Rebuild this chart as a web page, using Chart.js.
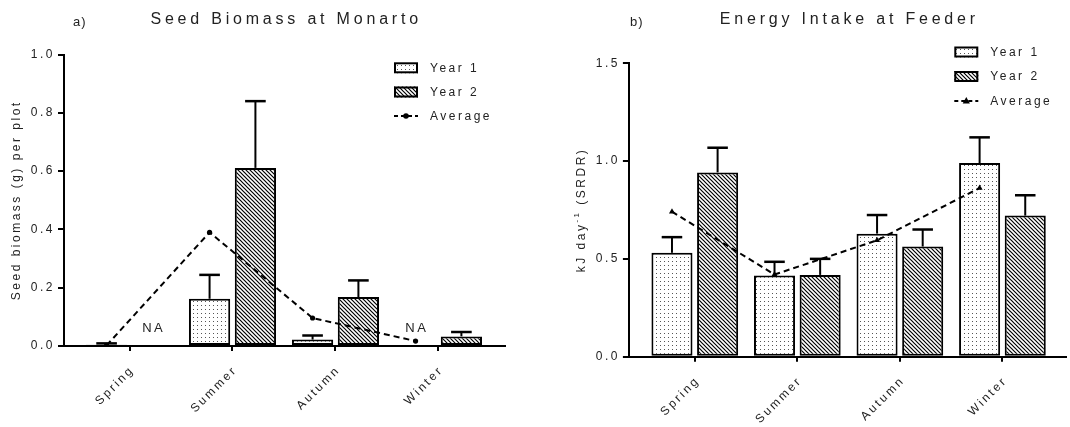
<!DOCTYPE html>
<html><head><meta charset="utf-8">
<script src="https://cdn.jsdelivr.net/npm/chart.js@4"></script>
<style>
html,body{margin:0;padding:0;background:#fff;}
#wrap{position:relative;width:1070px;height:427px;overflow:hidden;}
canvas{position:absolute;top:0;}
#c1{left:0}#c2{left:535px}
</style></head><body>
<div id="wrap"><canvas id="c1" width="535" height="427"></canvas><canvas id="c2" width="535" height="427"></canvas></div>
<script>
// ---- data ----
const seasons = ['Spring', 'Summer', 'Autumn', 'Winter'];
// a) Seed biomass at Monarto, g per plot (null = NA)
const seedYear1    = [0.004, 0.162, 0.022, null];
const seedYear1Err = [0.005, 0.082, 0.014, null];
const seedYear2    = [null, 0.611, 0.168, 0.033];
const seedYear2Err = [null, 0.229, 0.057, 0.015];
const seedAverage  = [0.002, 0.390, 0.096, 0.017];
const seedTicks    = [0, 0.2, 0.4, 0.6, 0.8, 1.0];
// b) Energy intake at feeder, kJ day-1 (SRDR)
const energyYear1    = [0.531, 0.415, 0.629, 0.990];
const energyYear1Err = [0.080, 0.070, 0.095, 0.131];
const energyYear2    = [0.942, 0.418, 0.563, 0.721];
const energyYear2Err = [0.126, 0.082, 0.087, 0.104];
const energyAverage  = [0.741, 0.420, 0.595, 0.862];
const energyTicks    = [0, 0.5, 1.0, 1.5];

const CAT = 0.89, BAR = 0.9;
const FAM = "'Liberation Sans', Arial, sans-serif";
const TXT = '#222';

function dotPattern(ctx){
  const c=document.createElement('canvas');c.width=4;c.height=4;
  const g=c.getContext('2d');g.fillStyle='#fff';g.fillRect(0,0,4,4);
  g.fillStyle='#555';g.fillRect(1,1,1,1);
  return ctx.createPattern(c,'repeat');
}
function hatchPattern(ctx){
  const c=document.createElement('canvas');c.width=4;c.height=4;
  const g=c.getContext('2d');g.fillStyle='#fff';g.fillRect(0,0,4,4);
  g.strokeStyle='#000';g.lineWidth=1.2;g.beginPath();
  g.moveTo(-1,-1);g.lineTo(5,5);g.moveTo(-1,3);g.lineTo(1,5);g.moveTo(3,-1);g.lineTo(5,1);g.stroke();
  return ctx.createPattern(c,'repeat');
}

const spacingPlugin = {
  id:'spacing',
  beforeUpdate(c){c.ctx.letterSpacing='2.5px';},
  beforeLayout(c){c.ctx.letterSpacing='2.5px';},
  beforeDraw(c){c.ctx.letterSpacing='2.5px';}
};

const errorBars = {
  id:'errorBars',
  afterDatasetDraw(chart,args){
    const ds=chart.data.datasets[args.index];
    if(!ds.errors) return;
    const ctx=chart.ctx, ys=chart.scales.y;
    ctx.save();ctx.strokeStyle='#000';
    args.meta.data.forEach((bar,i)=>{
      const v=ds.data[i].y, e=ds.errors[i];
      if(v==null||e==null) return;
      const top=ys.getPixelForValue(v+e), half=bar.width/4;
      ctx.lineWidth=2;ctx.beginPath();ctx.moveTo(bar.x,bar.y);ctx.lineTo(bar.x,top);ctx.stroke();
      ctx.lineWidth=2.5;ctx.beginPath();ctx.moveTo(bar.x-half,top);ctx.lineTo(bar.x+half,top);ctx.stroke();
    });
    ctx.restore();
  }
};

function drawMarker(ctx,style,x,y,r){
  ctx.beginPath();
  if(style==='triangle'){
    ctx.moveTo(x,y-r);ctx.lineTo(x+r*0.9,y+r*0.6);ctx.lineTo(x-r*0.9,y+r*0.6);ctx.closePath();
  } else ctx.arc(x,y,r,0,Math.PI*2);
  ctx.fill();
}

function makeChart(canvas,cfg){
  const ctx=canvas.getContext('2d');
  const dots=dotPattern(ctx), hatch=hatchPattern(ctx);
  const annot = {
    id:'annot',
    afterDraw(chart){
      const c=chart.ctx, a=chart.chartArea, xs=chart.scales.x, ys=chart.scales.y;
      c.save();
      c.fillStyle=TXT;
      c.letterSpacing='1px';c.font='13px '+FAM;c.textAlign='left';c.textBaseline='alphabetic';
      c.fillText(cfg.letter,a.left+cfg.letterDx,26);
      c.letterSpacing='3.8px';c.font='16px '+FAM;c.textAlign='center';
      c.fillText(cfg.title,(a.left+a.right)/2+1.9,24);
      c.letterSpacing='2.5px';
      c.save();c.translate(a.left-48,(a.top+a.bottom)/2);c.rotate(-Math.PI/2);
      c.textAlign='left';c.textBaseline='alphabetic';
      let w=0;
      cfg.yTitle.forEach(p=>{c.font=p.size+'px '+FAM;w+=c.measureText(p.t).width;});
      let x=-w/2;
      cfg.yTitle.forEach(p=>{c.font=p.size+'px '+FAM;c.fillText(p.t,x,4+p.dy);x+=c.measureText(p.t).width;});
      c.restore();
      c.font='13px '+FAM;c.textAlign='center';c.textBaseline='middle';c.letterSpacing='2.5px';
      [[cfg.y1,-1],[cfg.y2,1]].forEach(([arr,side])=>{
        arr.forEach((v,i)=>{ if(v==null){
          c.fillText('NA',xs.getPixelForValue(i+side*CAT/4)+1.25,ys.getPixelForValue(0)-18);
        }});
      });
      const lx=a.right-cfg.legendDx;
      const rows=[{l:'Year 1',f:dots},{l:'Year 2',f:hatch},{l:'Average'}];
      rows.forEach((r,k)=>{
        const y=cfg.legendY[k];
        if(r.f){
          c.fillStyle=r.f;c.fillRect(lx,y-5.5,24,11);
          c.strokeStyle='#000';c.lineWidth=2;c.strokeRect(lx+1,y-4.5,22,9);
        } else {
          c.strokeStyle='#000';c.lineWidth=2;c.setLineDash([4,3]);
          c.beginPath();c.moveTo(lx,y);c.lineTo(lx+24,y);c.stroke();c.setLineDash([]);
          c.fillStyle='#000';drawMarker(c,cfg.marker,lx+12,y,cfg.marker==='triangle'?4:2.8);
        }
        c.fillStyle=TXT;c.font='12px '+FAM;c.textAlign='left';c.textBaseline='middle';
        c.fillText(r.l,lx+36,y+0.5);
      });
      c.restore();
    }
  };
  const area=cfg.area;
  return new Chart(ctx,{
    data:{datasets:[
      {type:'line',label:'Average',data:cfg.avg.map((v,i)=>({x:i-CAT/4,y:v})),
       borderColor:'#000',borderWidth:2,borderDash:[6,4],fill:false,tension:0,
       pointStyle:cfg.marker,pointRadius:cfg.marker==='triangle'?3.5:2.6,
       pointBackgroundColor:'#000',pointBorderColor:'#000',pointBorderWidth:0,order:0},
      {type:'bar',label:'Year 1',data:cfg.y1.map((v,i)=>({x:i,y:v})),errors:cfg.e1,
       backgroundColor:dots,borderColor:'#000',borderWidth:2,borderSkipped:false,
       categoryPercentage:CAT,barPercentage:BAR,order:1},
      {type:'bar',label:'Year 2',data:cfg.y2.map((v,i)=>({x:i,y:v})),errors:cfg.e2,
       backgroundColor:hatch,borderColor:'#000',borderWidth:2,borderSkipped:false,
       categoryPercentage:CAT,barPercentage:BAR,order:2}
    ]},
    options:{
      responsive:false,animation:false,devicePixelRatio:1,
      layout:{padding:{left:0,top:area.top,right:535-area.right,bottom:0}},
      plugins:{legend:{display:false},title:{display:false},tooltip:{enabled:false}},
      scales:{
        x:{type:'linear',min:cfg.xMin,max:cfg.xMax,offset:false,
          grid:{display:true,offset:false,drawOnChartArea:false,drawTicks:true,tickLength:5,lineWidth:2,color:'#000'},
          border:{display:true,color:'#000',width:2},
          ticks:{autoSkip:false,minRotation:45,maxRotation:45,padding:12,labelOffset:3,color:TXT,font:{family:FAM,size:12},
            callback:(v)=>seasons[Math.round(v)]},
          afterBuildTicks:s=>{s.ticks=seasons.map((_,i)=>({value:i}));},
          afterFit:s=>{s.height=427-area.bottom;}
        },
        y:{type:'linear',min:0,max:cfg.ticks[cfg.ticks.length-1],
          grid:{display:true,drawOnChartArea:false,drawTicks:true,tickLength:6,lineWidth:2,color:'#000'},
          border:{display:true,color:'#000',width:2},
          ticks:{padding:3,color:TXT,font:{family:FAM,size:12},callback:(v)=>v.toFixed(1)},
          afterBuildTicks:s=>{s.ticks=cfg.ticks.map(v=>({value:v}));},
          afterFit:s=>{s.width=area.left;}
        }
      }
    },
    plugins:[spacingPlugin,errorBars,annot]
  });
}

makeChart(document.getElementById('c1'),{
  y1:seedYear1,e1:seedYear1Err,y2:seedYear2,e2:seedYear2Err,avg:seedAverage,ticks:seedTicks,
  area:{left:64,top:54.5,right:504.5,bottom:346},xMin:-0.636,xMax:3.641,
  letter:'a)',letterDx:9,title:'Seed Biomass at Monarto',
  yTitle:[{t:'Seed biomass (g) per plot',size:12,dy:0}],
  legendDx:110.5,legendY:[67.8,92,116],marker:'circle'
});
makeChart(document.getElementById('c2'),{
  y1:energyYear1,e1:energyYear1Err,y2:energyYear2,e2:energyYear2Err,avg:energyAverage,ticks:energyTicks,
  area:{left:93.9,top:63.2,right:535,bottom:356.7},xMin:-0.6425,xMax:3.62,
  letter:'b)',letterDx:1,title:'Energy Intake at Feeder',
  yTitle:[{t:'kJ day',size:12,dy:0},{t:'-1',size:8,dy:-6},{t:' (SRDR)',size:12,dy:0}],
  legendDx:111.7,legendY:[52,76.5,101],marker:'triangle'
});
</script>
</body></html>
